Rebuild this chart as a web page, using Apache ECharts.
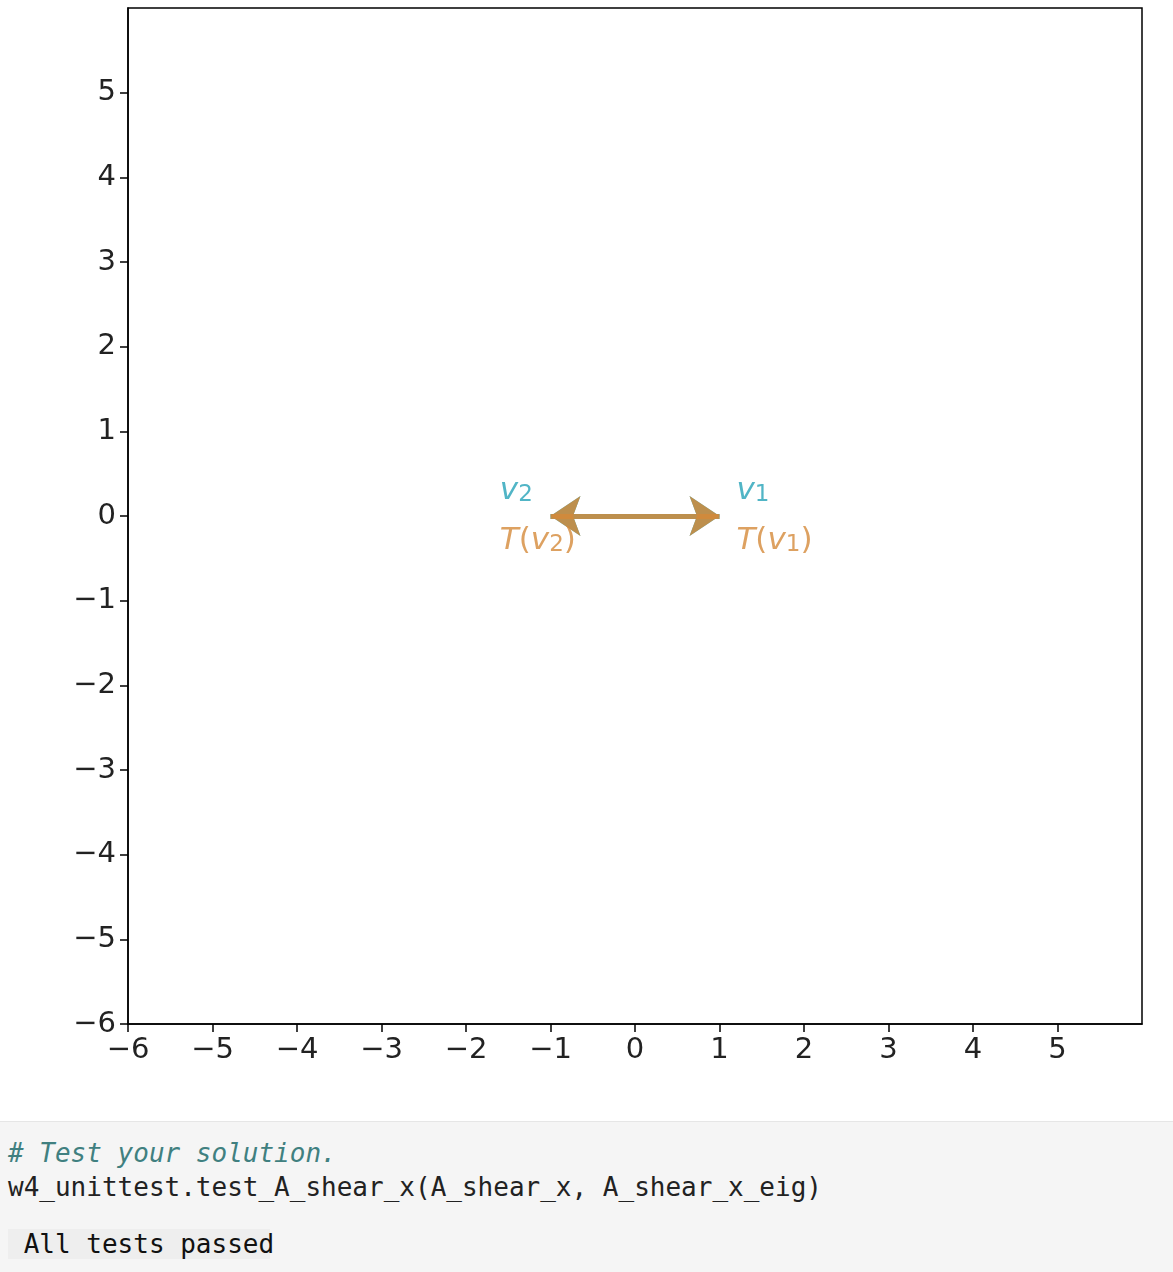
<!DOCTYPE html>
<html>
<head>
<meta charset="utf-8">
<script src="https://cdn.jsdelivr.net/npm/echarts@6/dist/echarts.min.js"></script>
<style>
  body { margin: 0; background: #fff; font-family: "DejaVu Sans Mono", monospace; }
  #chart { width: 1173px; height: 1080px; }
  .cell { position: absolute; top: 1121px; left: 0; width: 1173px; height: 151px; background: #f5f5f5; border-top: 1px solid #e6e6e6; }
  .code { position: absolute; left: 8px; font-size: 26px; white-space: pre; }
</style>
</head>
<body>
<div id="chart"></div>
<div class="cell">
  <div class="code" style="top:16px;color:#408080;font-style:italic"># Test your solution.</div>
  <div class="code" style="top:50px;color:#222">w4_unittest.test_A_shear_x(A_shear_x, A_shear_x_eig)</div>
  <div class="code" style="top:107px;color:#111;background:#eeeeee;left:8px;width:262px"> All tests passed</div>
</div>
<script>
var ticks = [-6, -5, -4, -3, -2, -1, 0, 1, 2, 3, 4, 5];
var vectorsV = [[[0, 0], [1, 0]], [[0, 0], [-1, 0]]];
var vectorsT = [[[0, 0], [1, 0]], [[0, 0], [-1, 0]]];
var labelsV = [[1.2, 0.3, '{i|v}{s|1}'], [-1.6, 0.3, '{i|v}{s|2}']];
var labelsT = [[1.2, -0.3, '{i|T}({i|v}{s|1})'], [-1.6, -0.3, '{i|T}({i|v}{s|2})']];

var teal = '#25a3b8';
var orange = '#d4893a';

function minus(v) { return ticks.indexOf(v) >= 0 ? String(v).replace('-', '\u2212') : ''; }

function axis() {
  return {
    type: 'value', min: -6, max: 6, interval: 1,
    axisLine: { show: true, onZero: false, lineStyle: { color: '#000', width: 1.5 } },
    axisTick: { show: true, length: 8, lineStyle: { color: '#000', width: 1.5 } },
    axisLabel: { fontSize: 29, color: '#222', fontFamily: 'DejaVu Sans', margin: 12,
      showMaxLabel: false, formatter: minus },
    splitLine: { show: false }
  };
}

function rich(color) {
  return {
    i: { fontStyle: 'italic', fontSize: 31, color: color, fontFamily: 'DejaVu Sans' },
    s: { fontSize: 23, color: color, fontFamily: 'DejaVu Sans', padding: [8, 0, 0, 0] }
  };
}

function labelSeries(data, color) {
  return {
    type: 'scatter', symbolSize: 0, data: data, silent: true,
    label: { show: true, position: 'inside', align: 'left',
      formatter: function (p) { return p.data[2]; },
      fontSize: 31, color: color, fontFamily: 'DejaVu Sans', rich: rich(color) }
  };
}

function arrowSeries(data, color) {
  return {
    type: 'lines', coordinateSystem: 'cartesian2d',
    symbol: ['none', 'arrow'], symbolSize: [16, 30],
    lineStyle: { color: color, width: 5, opacity: 0.85 },
    data: data.map(function (c) { return { coords: c }; })
  };
}

var chart = echarts.init(document.getElementById('chart'));
chart.setOption({
  animation: false,
  grid: { left: 128, top: 8, right: 31, bottom: 56, show: true, borderColor: '#000', borderWidth: 1.5 },
  xAxis: axis(),
  yAxis: axis(),
  series: [
    arrowSeries(vectorsV, teal),
    arrowSeries(vectorsT, orange),
    labelSeries(labelsV, teal),
    labelSeries(labelsT, orange)
  ]
});
</script>
</body>
</html>
